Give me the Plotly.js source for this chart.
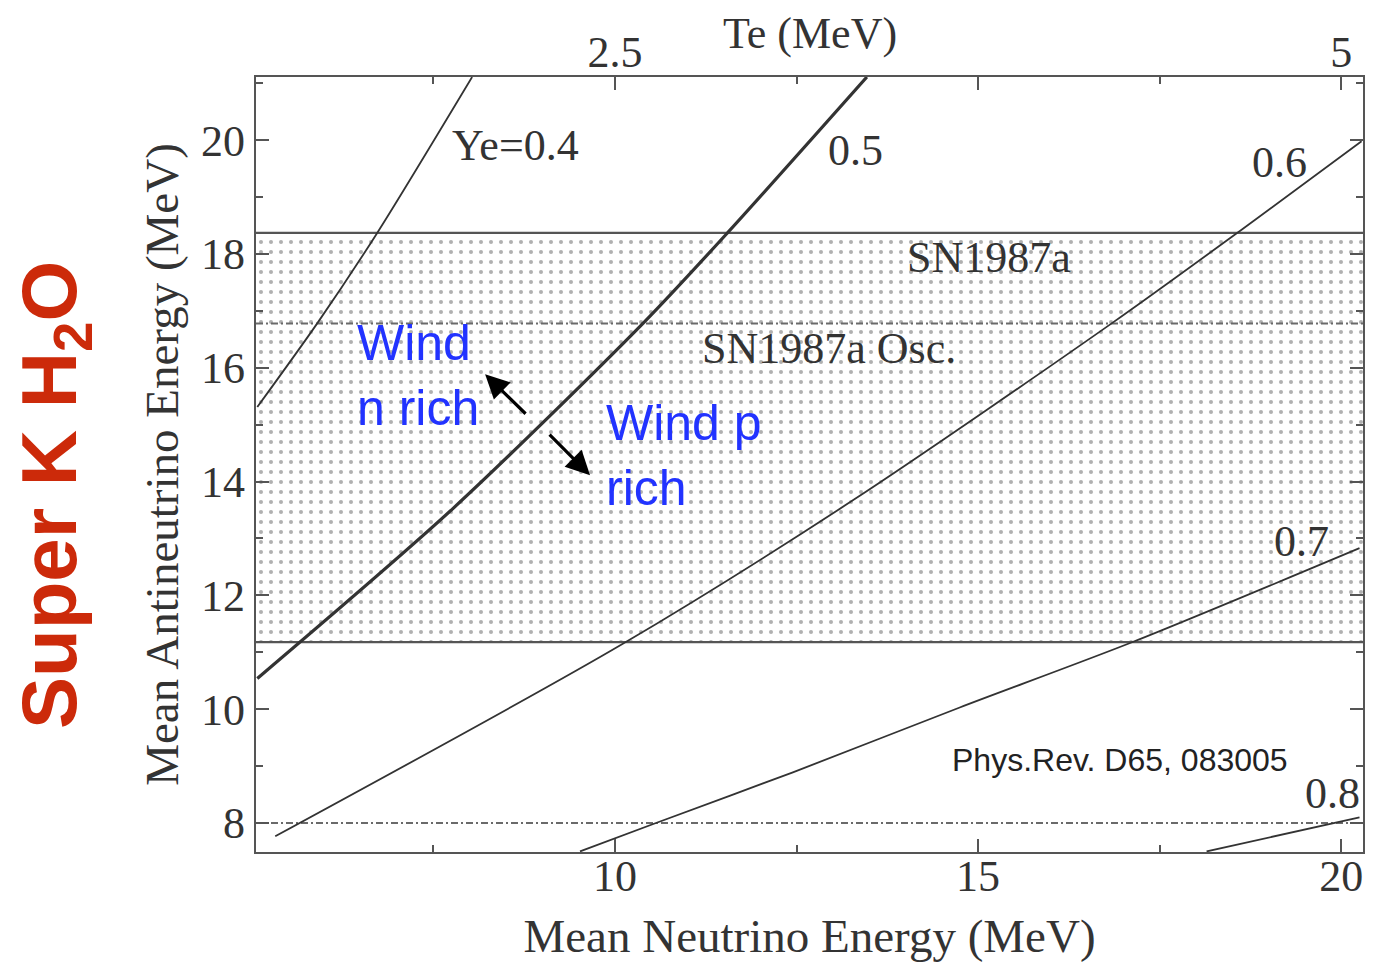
<!DOCTYPE html>
<html>
<head>
<meta charset="utf-8">
<script src="https://cdn.plot.ly/plotly-3.0.1.min.js"></script>
<style>
  html, body { margin: 0; padding: 0; background: #fff; }
  #chart { width: 1373px; height: 962px; }
</style>
</head>
<body>
<div id="chart"></div>
<script>
// ---- Data ----
// Mean neutrino energy (MeV) and mean antineutrino energy (MeV) along constant-Ye curves
const ye04_x = [5.074, 5.899, 6.725, 8.032];
const ye04_y = [15.31, 16.78, 18.37, 21.11];
const ye05_x = [5.074, 7.771, 10.385, 11.555, 13.468];
const ye05_y = [10.54, 13.53, 16.78, 18.38, 21.11];
const ye06_x = [5.321, 10.096, 13.275, 16.839, 18.60, 20.28];
const ye06_y = [7.766, 11.14, 13.67, 16.78, 18.40, 19.98];
const ye07_x = [9.518, 10.564, 12.449, 14.747, 17.128, 20.252];
const ye07_y = [7.50, 8.00, 8.89, 10.03, 11.18, 12.83];
const ye08_x = [18.146, 20.252];
const ye08_y = [7.50, 8.10];

// SN1987a band (antineutrino energy limits) and oscillation limits
const sn1987a_range = [11.18, 18.37];
const sn1987a_osc_levels = [16.78, 8.0];

// Axis ranges
const xRange = [5.056, 20.30];
const yRange = [7.49, 21.11];
const teScale = 4; // Te = E / 4

// Tick labels
const xTicks = [10, 15, 20];
const yTicks = [8, 10, 12, 14, 16, 18, 20];
const teTickVals = [2.5, 3.75, 5];
const teTickText = ['2.5', ' ', '5'];
const teMinorVals = [1.875, 3.125, 4.375];

// Curve labels
const curveLabelText = ['Ye=0.4', '0.5', '0.6', '0.7', '0.8'];
const curveLabelX = [7.73, 12.90, 18.74, 19.04, 19.47];
const curveLabelY = [19.91, 19.82, 19.61, 12.95, 8.52];

// ---- Build traces ----
const serif = 'Liberation Serif, Times New Roman, serif';
const sans = 'Liberation Sans, Arial, Helvetica, sans-serif';
const lineCol = '#333333';

const traces = [];
// shaded SN1987a band
traces.push({
  x: [xRange[0], xRange[1], xRange[1], xRange[0], xRange[0]],
  y: [sn1987a_range[0], sn1987a_range[0], sn1987a_range[1], sn1987a_range[1], sn1987a_range[0]],
  mode: 'lines', fill: 'toself', fillcolor: 'white',
  fillpattern: { shape: '.', fgcolor: '#b0b0b0', bgcolor: 'white', size: 10, solidity: 0.13 },
  line: { width: 0 }, hoverinfo: 'skip', showlegend: false
});
// band edges
sn1987a_range.forEach(v => traces.push({
  x: xRange, y: [v, v], mode: 'lines',
  line: { color: '#555', width: 2.2 }, showlegend: false, hoverinfo: 'skip'
}));
// oscillation dash-dot lines
sn1987a_osc_levels.forEach(v => traces.push({
  x: xRange, y: [v, v], mode: 'lines',
  line: { color: '#6a6a6a', width: 2, dash: '7px,3px,2px,3px' }, showlegend: false, hoverinfo: 'skip'
}));
// Ye curves
const curves = [
  [ye04_x, ye04_y, 1.8],
  [ye05_x, ye05_y, 3.2],
  [ye06_x, ye06_y, 1.8],
  [ye07_x, ye07_y, 1.8],
  [ye08_x, ye08_y, 1.8]
];
curves.forEach(c => traces.push({
  x: c[0], y: c[1], mode: 'lines', line: { color: lineCol, width: c[2], shape: 'spline', smoothing: 0.8 },
  showlegend: false, hoverinfo: 'skip'
}));
// dummy trace for the Te top axis
traces.push({ x: [], y: [], xaxis: 'x2', yaxis: 'y', showlegend: false, hoverinfo: 'skip' });

// ---- Annotations ----
const ann = [];
curveLabelText.forEach((t, i) => ann.push({
  x: curveLabelX[i], y: curveLabelY[i], xref: 'x', yref: 'y', text: t, showarrow: false,
  xanchor: 'left', yanchor: 'middle', font: { family: serif, size: 44, color: '#333' }
}));
ann.push({ x: 13.99, y: 17.94, xref: 'x', yref: 'y', text: 'SN1987a', showarrow: false,
  xanchor: 'left', yanchor: 'middle', font: { family: serif, size: 44, color: '#333' } });
ann.push({ x: 11.17, y: 16.34, xref: 'x', yref: 'y', text: 'SN1987a Osc.', showarrow: false,
  xanchor: 'left', yanchor: 'middle', font: { family: serif, size: 44, color: '#333' } });
ann.push({ x: 14.61, y: 9.10, xref: 'x', yref: 'y', text: 'Phys.Rev. D65, 083005', showarrow: false,
  xanchor: 'left', yanchor: 'middle', font: { family: sans, size: 32, color: '#222' } });
ann.push({ x: 6.42, y: 15.87, xref: 'x', yref: 'y', text: 'Wind<br>n rich', showarrow: false, align: 'left',
  xanchor: 'left', yanchor: 'middle', font: { family: sans, size: 50, color: '#2233ff' } });
ann.push({ x: 9.85, y: 14.45, xref: 'x', yref: 'y', text: 'Wind p<br>rich', showarrow: false, align: 'left',
  xanchor: 'left', yanchor: 'middle', font: { family: sans, size: 50, color: '#2233ff' } });
// arrows
ann.push({ x: 8.211, y: 15.887, ax: 8.789, ay: 15.166, xref: 'x', yref: 'y', axref: 'x', ayref: 'y',
  text: '', showarrow: true, arrowhead: 2, arrowsize: 1.5, arrowwidth: 3.2, arrowcolor: '#000' });
ann.push({ x: 9.656, y: 14.11, ax: 9.078, ay: 14.85, xref: 'x', yref: 'y', axref: 'x', ayref: 'y',
  text: '', showarrow: true, arrowhead: 2, arrowsize: 1.5, arrowwidth: 3.2, arrowcolor: '#000' });
// top axis title
ann.push({ x: 0.5, y: 1, xref: 'paper', yref: 'paper', yshift: 44, text: 'Te (MeV)', showarrow: false,
  xanchor: 'center', yanchor: 'middle', font: { family: serif, size: 44, color: '#333' } });
// side label
ann.push({ x: -0.182, y: 0.46, xref: 'paper', yref: 'paper', text: '<b>Super K H<sub>2</sub>O</b>',
  textangle: -90, showarrow: false, xanchor: 'center', yanchor: 'middle',
  font: { family: sans, size: 78, color: '#cc2a0a' } });

const axisCommon = {
  showline: true, linecolor: '#555', linewidth: 2.2, showgrid: false, zeroline: false,
  ticks: 'inside', tickcolor: '#555', tickwidth: 2, ticklen: 13,
  tickfont: { family: serif, size: 44, color: '#333' }
};

const layout = {
  width: 1373, height: 962,
  margin: { l: 256, r: 10, t: 77, b: 110 },
  paper_bgcolor: 'white', plot_bgcolor: 'white',
  showlegend: false,
  xaxis: Object.assign({}, axisCommon, {
    range: xRange, tickvals: xTicks, mirror: false, ticklabelstandoff: -16,
    minor: { tickvals: [7.5, 12.5, 17.5], ticks: 'inside', ticklen: 7, tickcolor: '#555', tickwidth: 2 },
    title: { text: 'Mean Neutrino Energy (MeV)', font: { family: serif, size: 47, color: '#333' }, standoff: 26 }
  }),
  xaxis2: Object.assign({}, axisCommon, {
    overlaying: 'x', side: 'top', anchor: 'y',
    range: [xRange[0] / teScale, xRange[1] / teScale],
    tickvals: teTickVals, ticktext: teTickText, ticklabelstandoff: -10,
    minor: { tickvals: teMinorVals, ticks: 'inside', ticklen: 7, tickcolor: '#555', tickwidth: 2 }
  }),
  yaxis: Object.assign({}, axisCommon, {
    range: yRange, tickvals: yTicks, mirror: 'ticks', ticklabelstandoff: 0,
    minor: { dtick: 1, tick0: 0, ticks: 'inside', ticklen: 7, tickcolor: '#555', tickwidth: 2 },
    title: { text: 'Mean Antineutrino Energy (MeV)', font: { family: serif, size: 47, color: '#333' }, standoff: 8 }
  }),
  annotations: ann
};

Plotly.newPlot('chart', traces, layout, { staticPlot: true, displayModeBar: false });
</script>
</body>
</html>
